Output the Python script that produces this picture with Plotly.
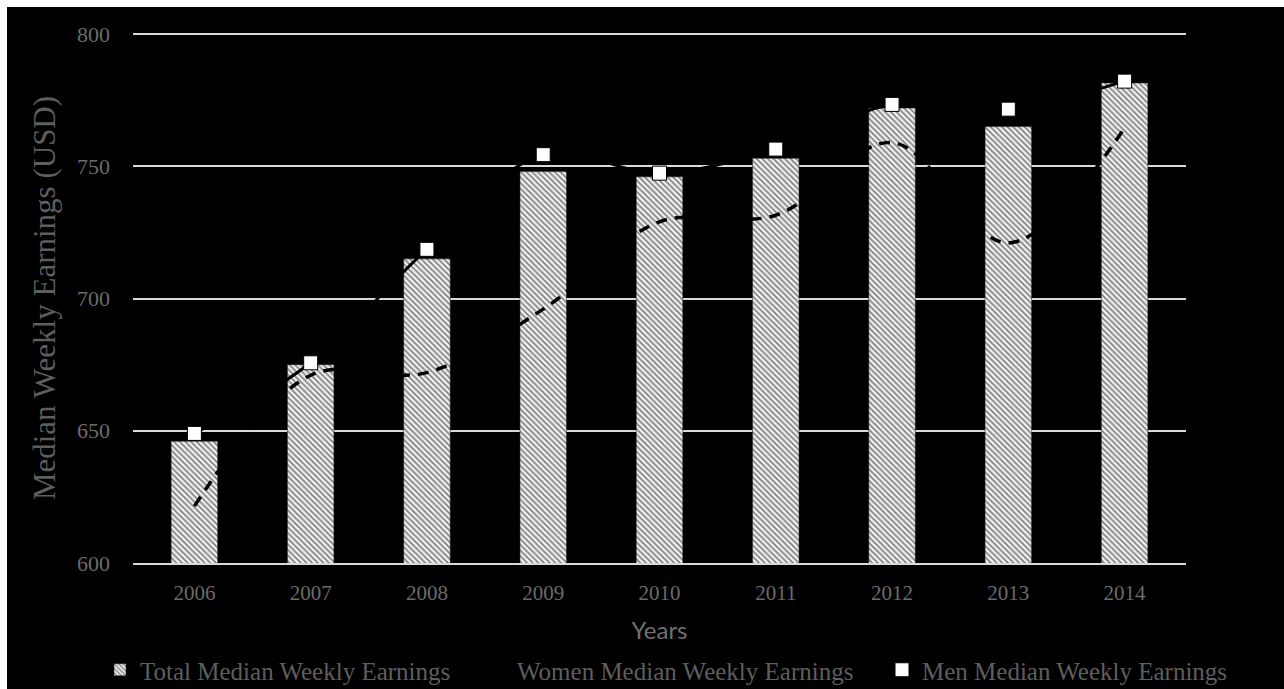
import plotly.graph_objects as go

# Median weekly earnings by year (USD)
years = ["2006", "2007", "2008", "2009", "2010", "2011", "2012", "2013", "2014"]
total_earnings = [646, 675, 715, 748, 746, 753, 772, 765, 781.5]
women_earnings = [621.5, 671, 672, 696, 729, 731.5, 759, 721, 764.5]
men_earnings = [649, 675.7, 718.6, 754.4, 747.4, 756.5, 773.4, 771.6, 782.2]

y_ticks = [600, 650, 700, 750, 800]

W, H = 1284, 689
L, R, T, B = 133, 98, 33, 126
pw, ph = W - L - R, H - T - B

serif = "Liberation Serif"
tick_grey = "#6b6b6b"
text_grey = "#5e5e5e"

fig = go.Figure()

fig.add_trace(go.Bar(
    x=years, y=total_earnings,
    name="Total Median Weekly Earnings",
    width=0.4,
    marker=dict(
        color="#f2f2f2",
        line=dict(color="#222222", width=0.5),
        pattern=dict(shape="\\", fgcolor="#111111", bgcolor="#f2f2f2",
                     size=4, solidity=0.45),
    ),
    legend="legend",
))

fig.add_trace(go.Scatter(
    x=years, y=women_earnings,
    name="Women Median Weekly Earnings",
    mode="lines",
    line=dict(color="#000000", width=3.5, dash="11px,8px", shape="spline"),
    legend="legend2",
))

fig.add_trace(go.Scatter(
    x=years, y=men_earnings,
    name="Men Median Weekly Earnings",
    mode="lines+markers",
    line=dict(color="#000000", width=3, shape="spline"),
    marker=dict(symbol="square", size=14, color="#ffffff",
                line=dict(color="#000000", width=1)),
    legend="legend3",
))

legend_common = dict(
    orientation="h",
    xref="container", yref="container",
    yanchor="middle", xanchor="left",
    y=1 - 670 / H,
    bgcolor="rgba(0,0,0,0)",
    font=dict(family=serif, size=25, color=text_grey),
)

fig.update_layout(
    width=W, height=H,
    margin=dict(l=L, r=R, t=T, b=B, autoexpand=False),
    paper_bgcolor="#ffffff",
    plot_bgcolor="#000000",
    showlegend=True,
    bargap=0.6,
    legend=dict(x=100 / W, **legend_common),
    legend2=dict(x=477 / W, **legend_common),
    legend3=dict(x=882 / W, **legend_common),
    xaxis=dict(
        type="category",
        automargin=False,
        showgrid=False,
        showline=True, linecolor="#d9d9d9", linewidth=2,
        ticks="",
        ticklabelstandoff=10,
        tickfont=dict(family=serif, size=21, color=tick_grey),
        title=dict(text="Years", standoff=18,
                   font=dict(family="Lato", size=24, color="#707070")),
    ),
    yaxis=dict(
        range=[600, 800.4],
        automargin=False,
        tickvals=y_ticks,
        showgrid=True, gridcolor="#d9d9d9", gridwidth=2,
        zeroline=False,
        showline=False,
        ticks="",
        ticklabelstandoff=22,
        tickfont=dict(family=serif, size=22, color=tick_grey),
        title=dict(text="Median Weekly Earnings (USD)", standoff=12,
                   font=dict(family=serif, size=31, color=text_grey)),
    ),
    shapes=[dict(
        type="rect", xref="paper", yref="paper", layer="below",
        x0=(7 - L) / pw, x1=(W + 5 - L) / pw,
        y0=-(H + 5 - T - ph) / ph, y1=(T + ph - 7) / ph,
        fillcolor="#000000", line=dict(width=0),
    )],
)

fig.write_html("out.html")
